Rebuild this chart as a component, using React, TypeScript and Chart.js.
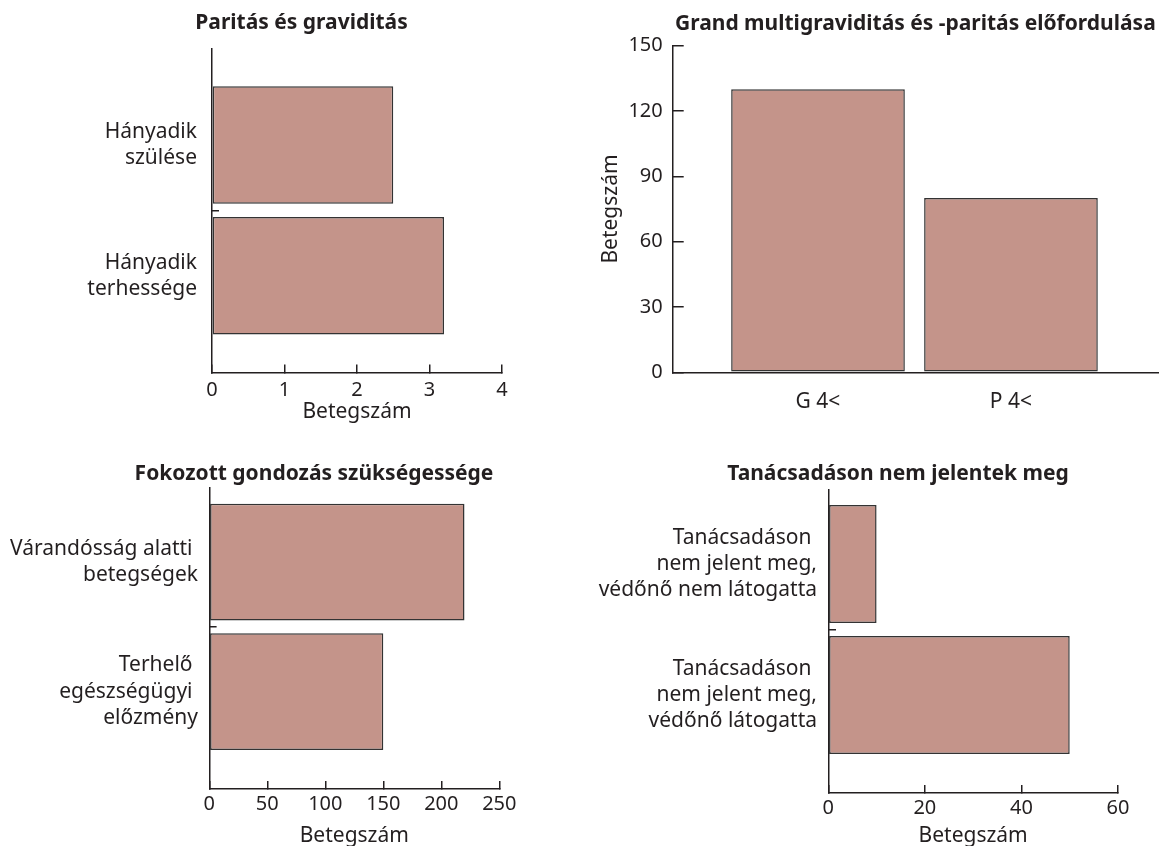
import React, { useEffect, useRef } from "react";
import { Chart, registerables } from "chart.js";

Chart.register(...registerables);

// ---------- data ----------
const PARITY_TITLE = "Paritás és graviditás";
const PARITY_LABELS = [["Hányadik", "szülése"], ["Hányadik", "terhessége"]];
const PARITY_VALUES = [2.5, 3.2];
const PARITY_TICKS = [0, 1, 2, 3, 4];

const GRAND_TITLE = "Grand multigraviditás és -paritás előfordulása";
const GRAND_LABELS = ["G 4<", "P 4<"];
const GRAND_VALUES = [130, 80];
const GRAND_TICKS = [0, 30, 60, 90, 120, 150];

const CARE_TITLE = "Fokozott gondozás szükségessége";
const CARE_LABELS = [
  ["Várandósság alatti ", "betegségek"],
  ["Terhelő ", "egészségügyi ", "előzmény"],
];
const CARE_VALUES = [220, 150];
const CARE_TICKS = [0, 50, 100, 150, 200, 250];

const ABSENT_TITLE = "Tanácsadáson nem jelentek meg";
const ABSENT_LABELS = [
  ["Tanácsadáson ", "nem jelent meg,", "védőnő nem látogatta"],
  ["Tanácsadáson ", "nem jelent meg,", "védőnő látogatta"],
];
const ABSENT_VALUES = [10, 50];
const ABSENT_TICKS = [0, 20, 40, 60];

const VALUE_AXIS_TITLE = "Betegszám";

// ---------- styles ----------
const FONT = '"Noto Sans", "DejaVu Sans", sans-serif';
const INK = "#231f20";
const AXIS = "#231f20";
const BAR_FILL = "#c4948a";
const BAR_EDGE = "#333333";

type Lay = {
  left: number; top: number; width: number; height: number;
  pl: number; pr: number; pb: number; rw: number;
  tpt: number; tpb: number;
  yw: number; ytl: number; yp: number; yRange: [number, number];
  xh: number; xtl: number; xp: number;
};

function horizontalBar(title: string, labels: string[][], values: number[], ticks: number[], lay: Lay) {
  const positions = labels.map((_, i) => i);
  const mids = positions.slice(1).map((p) => p - 0.5);
  const catTicks = [...positions, ...mids].sort((a, b) => a - b);
  return {
    type: "bar",
    data: {
      datasets: [
        {
          data: values.map((v, i) => ({ x: v, y: i })),
          backgroundColor: BAR_FILL,
          borderColor: BAR_EDGE,
          borderWidth: 1.5,
          borderSkipped: false,
          // the tick between categories halves the sample spacing
          barPercentage: 1.8,
          categoryPercentage: 1,
        },
      ],
    },
    options: {
      indexAxis: "y",
      animation: false,
      responsive: false,
      devicePixelRatio: 1,
      layout: { padding: { left: lay.pl, right: lay.pr, top: 0, bottom: lay.pb } },
      plugins: {
        legend: { display: false },
        tooltip: { enabled: false },
        title: {
          display: true,
          text: title,
          color: INK,
          fullSize: true,
          font: { family: FONT, size: 21, weight: "bold", lineHeight: 1.2 },
          padding: { top: lay.tpt, bottom: lay.tpb },
        },
      },
      scales: {
        x: {
          type: "linear",
          position: "bottom",
          min: ticks[0],
          max: ticks[ticks.length - 1],
          afterBuildTicks: (s: any) => {
            s.ticks = ticks.map((v) => ({ value: v }));
          },
          afterFit: (s: any) => {
            s.height = lay.xh;
          },
          grid: { drawOnChartArea: false, drawTicks: true, tickLength: lay.xtl, color: AXIS, lineWidth: 1.5 },
          border: { display: true, color: AXIS, width: 1.5 },
          ticks: {
            color: INK,
            font: { family: FONT, size: 20, lineHeight: 1.25 },
            padding: lay.xp,
            maxRotation: 0,
            autoSkip: false,
          },
          title: {
            display: true,
            text: VALUE_AXIS_TITLE,
            color: INK,
            font: { family: FONT, size: 21, lineHeight: 1.25 },
            padding: { top: 0, bottom: 0 },
          },
        },
        y: {
          type: "linear",
          position: "left",
          reverse: true,
          offset: false,
          min: lay.yRange[0],
          max: lay.yRange[1],
          afterBuildTicks: (s: any) => {
            s.ticks = catTicks.map((v) => ({ value: v }));
          },
          afterFit: (s: any) => {
            s.width = lay.yw;
          },
          grid: {
            offset: false,
            drawOnChartArea: false,
            drawTicks: true,
            tickLength: lay.ytl,
            color: AXIS,
            lineWidth: 1.5,
            tickColor: (c: any) => (c.tick && Number.isInteger(c.tick.value) ? "rgba(0,0,0,0)" : AXIS),
          },
          border: { display: true, color: AXIS, width: 1.5 },
          ticks: {
            color: INK,
            font: { family: FONT, size: 21, lineHeight: 1.25 },
            padding: lay.yp,
            autoSkip: false,
            callback: (value: number) => (Number.isInteger(value) ? labels[value] : ""),
          },
        },
        // empty right-hand spacer so the full-width title centres like the original
        spacer: {
          type: "linear",
          axis: "y",
          position: "right",
          display: true,
          afterFit: (s: any) => {
            s.width = lay.rw;
          },
          ticks: { display: false },
          grid: { display: false, drawTicks: false },
          border: { display: false },
        },
      },
    },
  };
}

function verticalBar(title: string, labels: string[], values: number[], ticks: number[]) {
  return {
    type: "bar",
    data: {
      datasets: [
        {
          data: values.map((v, i) => ({ x: i, y: v })),
          backgroundColor: BAR_FILL,
          borderColor: BAR_EDGE,
          borderWidth: 1.5,
          borderSkipped: false,
          barPercentage: 0.9,
          categoryPercentage: 1,
        },
      ],
    },
    options: {
      animation: false,
      responsive: false,
      devicePixelRatio: 1,
      layout: { padding: { left: 0, right: 2, top: 0, bottom: 7.7 } },
      plugins: {
        legend: { display: false },
        tooltip: { enabled: false },
        title: {
          display: true,
          text: title,
          color: INK,
          fullSize: false,
          font: { family: FONT, size: 21, weight: "bold", lineHeight: 1.2 },
          padding: { top: 11.4, bottom: 9.1 },
        },
      },
      scales: {
        x: {
          type: "linear",
          position: "bottom",
          offset: false,
          min: -0.753,
          max: 1.762,
          afterBuildTicks: (s: any) => {
            s.ticks = labels.map((_, i) => ({ value: i }));
          },
          afterFit: (s: any) => {
            s.height = 50;
          },
          grid: { offset: false, drawOnChartArea: false, drawTicks: false },
          border: { display: true, color: AXIS, width: 1.5 },
          ticks: {
            color: INK,
            font: { family: FONT, size: 21, lineHeight: 1.25 },
            padding: 16.9,
            maxRotation: 0,
            autoSkip: false,
            callback: (value: number) => (Number.isInteger(value) ? labels[value] : ""),
          },
        },
        y: {
          type: "linear",
          position: "left",
          min: ticks[0],
          max: ticks[ticks.length - 1],
          afterBuildTicks: (s: any) => {
            s.ticks = ticks.map((v) => ({ value: v }));
          },
          afterFit: (s: any) => {
            s.width = 92.7;
          },
          grid: { drawOnChartArea: false, drawTicks: true, tickLength: -11, color: AXIS, lineWidth: 1.5 },
          border: { display: true, color: AXIS, width: 1.5 },
          ticks: {
            color: INK,
            font: { family: FONT, size: 20, lineHeight: 1.25 },
            padding: 21,
            autoSkip: false,
          },
          title: {
            display: true,
            text: VALUE_AXIS_TITLE,
            color: INK,
            font: { family: FONT, size: 21, lineHeight: 1.25 },
            padding: { top: 17.5, bottom: 0 },
          },
        },
      },
    },
  };
}

const LAY_PARITY: Lay = {
  left: 0, top: 0, width: 580, height: 430,
  pl: 80, pr: 57, pb: 5.2, rw: 21, tpt: 9.4, tpb: 13.1,
  yw: 132, ytl: -7, yp: 22, yRange: [-0.742, 1.742],
  xh: 52.3, xtl: -8, xp: 13.7,
};
const LAY_CARE: Lay = {
  left: 0, top: 430, width: 628, height: 430,
  pl: 0, pr: 0, pb: 10.6, rw: 128.7, tpt: 29.1, tpb: 1.4,
  yw: 209.3, ytl: -7.3, yp: 18.6, yRange: [-0.572, 1.746],
  xh: 61.1, xtl: -7.3, xp: 10.8,
};
const LAY_ABSENT: Lay = {
  left: 580, top: 430, width: 626, height: 430,
  pl: 10, pr: 0, pb: 10.4, rw: 88, tpt: 31.4, tpb: 3.4,
  yw: 238.3, ytl: -7.7, yp: 19, yRange: [-0.565, 1.746],
  xh: 56.9, xtl: -7.7, xp: 10.8,
};
const BOX_GRAND = { left: 580, top: 0, width: 580, height: 430 };

const CFG_PARITY = horizontalBar(PARITY_TITLE, PARITY_LABELS, PARITY_VALUES, PARITY_TICKS, LAY_PARITY);
const CFG_GRAND = verticalBar(GRAND_TITLE, GRAND_LABELS, GRAND_VALUES, GRAND_TICKS);
const CFG_CARE = horizontalBar(CARE_TITLE, CARE_LABELS, CARE_VALUES, CARE_TICKS, LAY_CARE);
const CFG_ABSENT = horizontalBar(ABSENT_TITLE, ABSENT_LABELS, ABSENT_VALUES, ABSENT_TICKS, LAY_ABSENT);

function ChartCanvas({ config, box }: { config: any; box: { left: number; top: number; width: number; height: number } }) {
  const ref = useRef<HTMLCanvasElement>(null);
  useEffect(() => {
    const chart = new Chart(ref.current as HTMLCanvasElement, config);
    return () => chart.destroy();
  }, [config]);
  return (
    <canvas
      ref={ref}
      width={box.width}
      height={box.height}
      style={{ position: "absolute", left: box.left, top: box.top, width: box.width, height: box.height }}
    />
  );
}

export default function App() {
  return (
    <div
      style={{
        position: "absolute",
        left: 0,
        top: 0,
        width: 1160,
        height: 846,
        overflow: "hidden",
        background: "#ffffff",
      }}
    >
      <ChartCanvas config={CFG_PARITY} box={LAY_PARITY} />
      <ChartCanvas config={CFG_GRAND} box={BOX_GRAND} />
      <ChartCanvas config={CFG_CARE} box={LAY_CARE} />
      <ChartCanvas config={CFG_ABSENT} box={LAY_ABSENT} />
    </div>
  );
}
